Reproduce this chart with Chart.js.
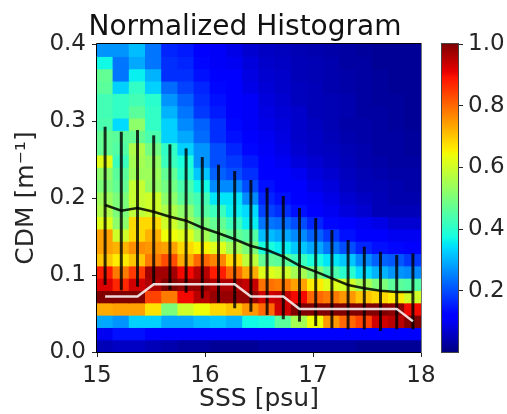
<!DOCTYPE html>
<html>
<head>
<meta charset="utf-8">
<style>
html,body{margin:0;padding:0;background:#fff;width:507px;height:414px;overflow:hidden}
#wrap{position:relative;width:507px;height:414px}
canvas{position:absolute;top:0}
#main{left:0}
#cbar{left:430px}
</style>
<script src="https://cdn.jsdelivr.net/npm/chart.js@4"></script>
</head>
<body>
<div id="wrap"><canvas id="main" width="507" height="414"></canvas><canvas id="cbar" width="77" height="414"></canvas></div>
<script>
const titleText = 'Normalized Histogram';
const xLabel = 'SSS [psu]';
const yLabel = 'CDM [m⁻¹]';
const xCenters = [15.075,15.225,15.375,15.525,15.675,15.825,15.975,16.125,16.275,16.425,16.575,16.725,16.875,17.025,17.175,17.325,17.475,17.625,17.775,17.925];
const yEdges = [0.4,0.384,0.368,0.352,0.336,0.32,0.304,0.288,0.272,0.256,0.24,0.224,0.208,0.192,0.176,0.16,0.144,0.128,0.112,0.096,0.08,0.064,0.048,0.032,0.016,0];
// rows listed top to bottom, one value per SSS column
const histRows = [
[.27,.27,.31,.24,.16,.15,.12,.105,.09,.07,.06,.055,.045,.04,.035,.03,.025,.02,.02,.02],
[.37,.24,.29,.24,.17,.16,.13,.105,.10,.08,.065,.06,.05,.045,.04,.03,.03,.02,.02,.02],
[.47,.24,.36,.30,.17,.17,.14,.11,.11,.085,.07,.065,.05,.045,.04,.035,.03,.025,.02,.02],
[.46,.33,.41,.33,.23,.19,.16,.13,.11,.09,.075,.065,.055,.05,.04,.035,.03,.025,.02,.02],
[.43,.41,.43,.40,.27,.22,.17,.14,.12,.105,.08,.07,.055,.05,.045,.04,.03,.025,.025,.02],
[.43,.41,.46,.41,.30,.24,.18,.15,.12,.105,.085,.075,.065,.05,.045,.04,.03,.03,.025,.02],
[.44,.34,.52,.41,.33,.26,.22,.17,.13,.105,.09,.08,.065,.055,.045,.035,.035,.03,.025,.02],
[.47,.46,.47,.44,.33,.29,.23,.17,.14,.115,.10,.085,.065,.06,.05,.04,.035,.03,.03,.025],
[.47,.45,.56,.49,.41,.33,.27,.20,.16,.13,.105,.09,.07,.06,.055,.045,.04,.03,.03,.025],
[.62,.42,.55,.53,.42,.38,.27,.20,.18,.15,.11,.10,.08,.07,.06,.05,.04,.035,.03,.03],
[.52,.46,.54,.54,.47,.40,.32,.22,.20,.17,.12,.11,.10,.08,.07,.055,.045,.04,.035,.035],
[.50,.47,.59,.53,.49,.44,.37,.26,.26,.20,.14,.115,.11,.09,.08,.06,.05,.045,.04,.035],
[.54,.50,.59,.60,.52,.46,.43,.35,.35,.26,.16,.14,.12,.105,.09,.07,.06,.05,.04,.04],
[.56,.50,.58,.60,.56,.52,.45,.42,.36,.34,.19,.17,.14,.115,.10,.08,.07,.05,.05,.05],
[.62,.52,.68,.68,.60,.55,.50,.47,.42,.36,.24,.23,.20,.16,.13,.11,.10,.09,.07,.07],
[.74,.60,.68,.72,.64,.62,.55,.50,.47,.45,.31,.29,.26,.22,.18,.14,.12,.11,.10,.10],
[.74,.72,.76,.75,.74,.68,.65,.62,.55,.50,.38,.36,.32,.29,.24,.20,.16,.14,.13,.12],
[.70,.66,.70,.78,.83,.73,.80,.77,.68,.58,.47,.46,.42,.38,.35,.32,.26,.22,.21,.18],
[.88,.78,.85,.97,.97,.90,.95,.88,.80,.73,.62,.60,.55,.50,.44,.40,.34,.30,.27,.26],
[.92,.87,.93,.96,1,.98,.98,.96,.96,.94,.79,.78,.74,.66,.62,.60,.55,.50,.46,.45],
[1,1,1,.84,.78,.90,.95,.98,.98,.98,.93,.94,.90,.80,.78,.75,.70,.68,.66,.60],
[.73,.74,.74,.67,.50,.60,.64,.68,.70,.75,.80,.93,1,1,1,1,1,1,.99,.90],
[.29,.27,.33,.33,.29,.29,.31,.32,.30,.37,.38,.46,.55,.64,.75,.80,.84,.93,.95,1],
[.10,.14,.14,.12,.11,.11,.11,.11,.11,.11,.11,.11,.11,.11,.11,.11,.11,.11,.11,.11],
[.05,.06,.06,.05,.04,.03,.03,.02,.02,.02,.03,.03,.03,.03,.03,.03,.02,.02,.02,.02]
];
const meanCDM = [.1909,.1835,.187,.1822,.1757,.1705,.1614,.1542,.1464,.1377,.1325,.1238,.1121,.1043,.0957,.087,.0827,.0796,.0779,.0779];
const medianCDM = [.072,.072,.072,.088,.088,.088,.088,.088,.088,.072,.072,.072,.056,.056,.056,.056,.056,.056,.056,.04];
const upperCDM = [.2926,.2861,.2883,.2814,.2697,.2645,.2532,.2432,.2351,.2234,.2134,.2026,.187,.174,.1584,.1455,.1368,.1303,.126,.1282];
const lowerCDM = [.087,.0801,.0848,.0883,.0805,.077,.0697,.064,.0568,.0523,.048,.0425,.0394,.0338,.0308,.0295,.0295,.0273,.0295,.0295];
const xTicks = [15,16,17,18];
const yTicks = [0,0.1,0.2,0.3,0.4];
const cbarTicks = [0.2,0.4,0.6,0.8,1.0];
const cbarRange = [0.002,1];

const FONT = '"DejaVu Sans"';
const INK = '#262626';

function ramp(v, pts){
  if (v <= pts[0][0]) return pts[0][1];
  for (let i = 1; i < pts.length; i++){
    if (v <= pts[i][0]){
      const a = pts[i-1], b = pts[i];
      return a[1] + (b[1]-a[1])*(v-a[0])/(b[0]-a[0]);
    }
  }
  return pts[pts.length-1][1];
}
function jet(v){
  const r = ramp(v,[[.35,0],[.66,1],[.89,1],[1,.5]]);
  const g = ramp(v,[[.125,0],[.375,1],[.64,1],[.91,0]]);
  const b = ramp(v,[[0,.5],[.11,1],[.34,1],[.65,0]]);
  return `rgb(${Math.round(r*255)},${Math.round(g*255)},${Math.round(b*255)})`;
}

const frame = {id:'frame', afterDraw(c){
  const a=c.chartArea, x=c.ctx; x.save(); x.lineWidth=1;
  x.strokeStyle='#000';
  x.beginPath();
  x.moveTo(a.right,a.top-.5); x.lineTo(a.left-.5,a.top-.5); x.lineTo(a.left-.5,a.bottom+.5); x.lineTo(a.right,a.bottom+.5);
  x.stroke();
  x.strokeStyle='#777';
  x.beginPath(); x.moveTo(a.right+.5,a.top-1); x.lineTo(a.right+.5,a.bottom+1); x.stroke();
  x.restore();
}};
const titleDraw = {id:'titleDraw', afterDraw(c){
  const x=c.ctx; x.save();
  x.font='28px '+FONT; x.fillStyle='#111'; x.textAlign='center'; x.textBaseline='alphabetic';
  x.fillText(titleText,245,35); x.restore();
}};
const cbarFrame = {id:'cbarFrame', afterDraw(c){
  const a=c.chartArea, x=c.ctx; x.save(); x.lineWidth=1; x.strokeStyle='#444';
  x.strokeRect(a.left-.5,a.top-.5,a.right-a.left+1,a.bottom-a.top+1); x.restore();
}};

const heatSets = histRows.map((row,r)=>({
  type:'bar', order:3, label:'row '+r,
  data: row.map((_,c)=>({x:xCenters[c], y:[yEdges[r+1],yEdges[r]]})),
  backgroundColor: row.map(v=>jet(v)),
  borderWidth:0, barPercentage:1, categoryPercentage:1, inflateAmount:0.6
}));

new Chart(document.getElementById('main'),{
  type:'bar',
  data:{datasets:[
    ...heatSets,
    {type:'bar',order:2,label:'range',data:xCenters.map((x,i)=>({x,y:[lowerCDM[i],upperCDM[i]]})),
     backgroundColor:'rgba(0,0,0,0.8)',borderWidth:0,barThickness:3,inflateAmount:0},
    {type:'line',order:1,label:'mean',data:xCenters.map((x,i)=>({x,y:meanCDM[i]})),
     borderColor:'rgba(0,0,0,0.85)',borderWidth:2.5,pointRadius:0,tension:0},
    {type:'line',order:0,label:'median',data:xCenters.map((x,i)=>({x,y:medianCDM[i]})),
     borderColor:'rgba(255,255,255,0.85)',borderWidth:2.5,pointRadius:0,tension:0}
  ]},
  options:{
    responsive:false,animation:false,
    layout:{padding:{left:0,right:86,top:44,bottom:0}},
    plugins:{legend:{display:false},tooltip:{enabled:false},title:{display:false}},
    scales:{
      x:{type:'linear',stacked:true,min:15,max:18,offset:false,
         afterBuildTicks(s){s.ticks=xTicks.map(value=>({value}));},
         grid:{offset:false,drawOnChartArea:false,drawTicks:true,tickLength:5,color:INK},border:{color:'#000'},
         ticks:{color:INK,font:{family:FONT,size:23},padding:5,maxRotation:0,autoSkip:false,callback:v=>String(v)},
         title:{display:true,text:xLabel,color:INK,font:{family:FONT,size:25},padding:{top:0,bottom:0}},
         afterFit(s){s.height=62;}},
      y:{type:'linear',min:0,max:0.4,
         afterBuildTicks(s){s.ticks=yTicks.map(value=>({value}));},
         grid:{drawOnChartArea:false,drawTicks:true,tickLength:5,color:INK},border:{color:'#000'},
         ticks:{color:INK,font:{family:FONT,size:23},padding:6,autoSkip:false,callback:v=>v.toFixed(1)},
         title:{display:true,text:yLabel,color:INK,font:{family:FONT,size:25},padding:{top:11,bottom:0}},
         afterFit(s){s.width=97;}}
    }
  },
  plugins:[frame,titleDraw]
});

new Chart(document.getElementById('cbar'),{
  type:'bar',
  data:{labels:['c'],datasets:[{data:[cbarRange],borderWidth:0,barPercentage:1,categoryPercentage:1,
    backgroundColor(ctx){
      const a=ctx.chart.chartArea; if(!a) return '#000';
      const g=ctx.chart.ctx.createLinearGradient(0,a.bottom,0,a.top);
      for(let i=0;i<=100;i++){
        const v=cbarRange[0]+(cbarRange[1]-cbarRange[0])*i/100;
        g.addColorStop(i/100,jet(v));
      }
      return g;
    }}]},
  options:{
    responsive:false,animation:false,
    layout:{padding:{left:12,right:0,top:44,bottom:62}},
    plugins:{legend:{display:false},tooltip:{enabled:false}},
    scales:{
      x:{display:false},
      y:{position:'right',min:cbarRange[0],max:cbarRange[1],
         afterBuildTicks(s){s.ticks=cbarTicks.map(value=>({value}));},
         grid:{drawOnChartArea:false,drawTicks:true,tickLength:5,color:INK},border:{color:'#444'},
         ticks:{color:INK,font:{family:FONT,size:23},padding:5,autoSkip:false,callback:v=>v.toFixed(1)},
         afterFit(s){s.width=49;}}
    }
  },
  plugins:[cbarFrame]
});
</script>
</body>
</html>
